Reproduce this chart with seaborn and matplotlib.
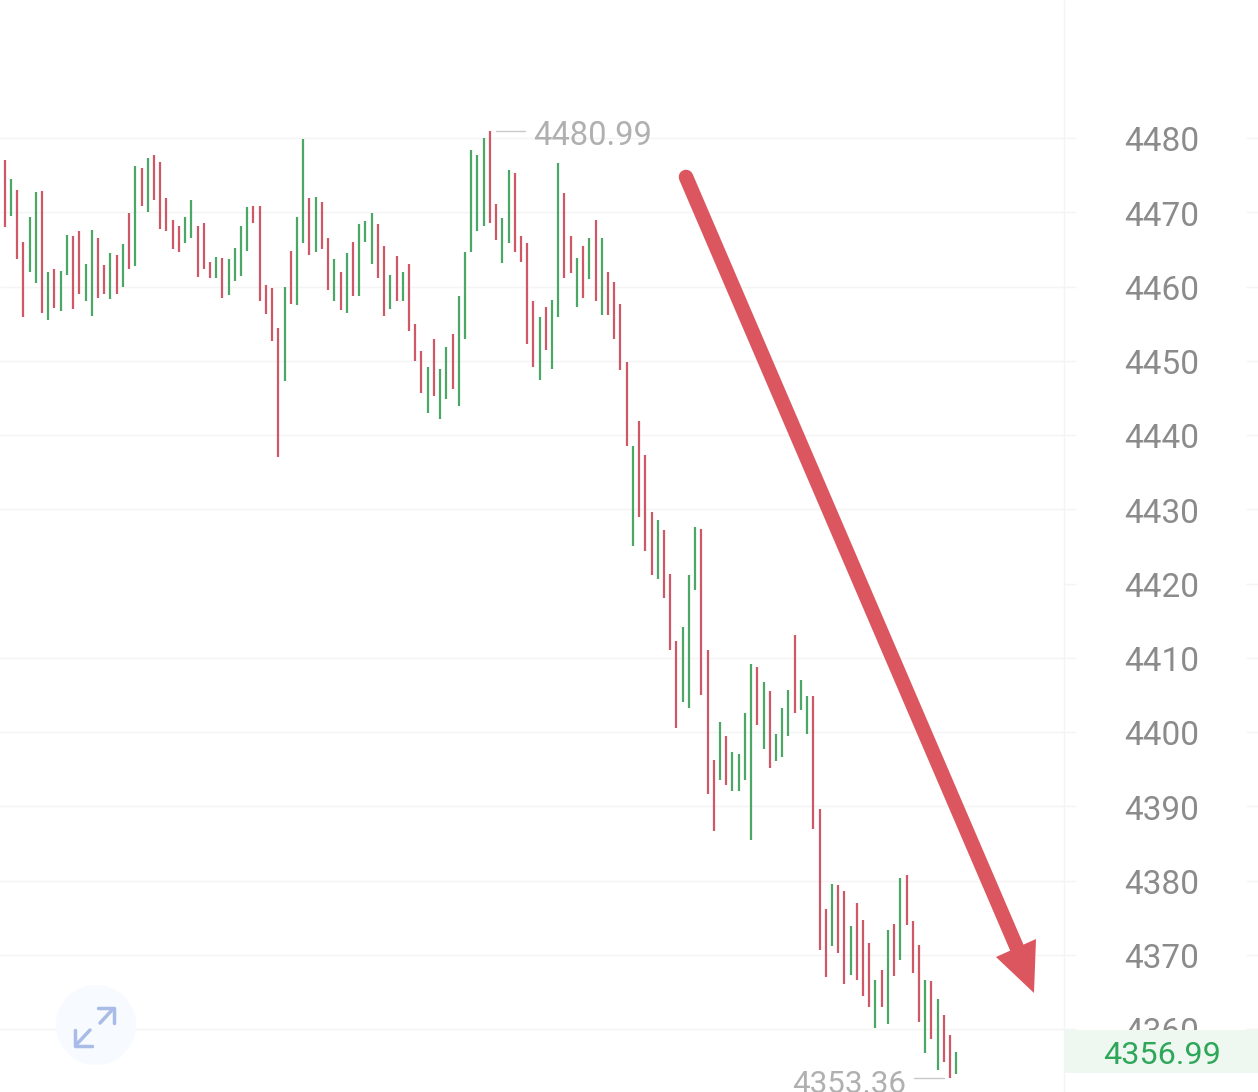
import matplotlib
matplotlib.use("Agg")
import matplotlib.pyplot as plt
from matplotlib.patches import Circle, Polygon, Rectangle
import pandas as pd
import seaborn as sns

sns.set_theme(style="white")
plt.rcParams['font.family'] = ['Roboto', 'DejaVu Sans']

# --- data ---
highs = [
    4477.1, 4474.5, 4473.0, 4466.0, 4469.3, 4472.7, 4472.9, 4461.9, 4462.4, 4462.1,
    4467.0, 4466.8, 4467.5, 4463.1, 4467.6, 4466.5, 4462.9, 4464.5, 4464.3, 4465.7,
    4469.9, 4476.3, 4476.0, 4477.3, 4477.7, 4476.8, 4471.9, 4468.9, 4468.2, 4469.4,
    4471.6, 4468.1, 4468.6, 4463.3, 4464.0, 4463.8, 4463.7, 4465.2, 4468.1, 4470.7,
    4470.9, 4470.9, 4460.2, 4459.8, 4454.4, 4459.9, 4464.8, 4469.4, 4479.9, 4471.9,
    4472.0, 4471.4, 4466.6, 4463.7, 4462.0, 4464.5, 4466.0, 4468.4, 4468.8, 4469.9,
    4468.4, 4465.4, 4461.6, 4464.1, 4462.0, 4463.0, 4454.9, 4451.3, 4449.1, 4453.0,
    4448.9, 4451.9, 4453.6, 4458.7, 4464.6, 4478.4, 4477.7, 4480.0, 4480.99, 4471.1,
    4469.2, 4475.7, 4475.3, 4466.8, 4465.9, 4458.0, 4455.9, 4457.2, 4458.2, 4476.7,
    4472.6, 4466.8, 4463.9, 4465.5, 4466.6, 4468.9, 4466.6, 4462.0, 4460.6, 4457.6,
    4449.8, 4438.5, 4441.9, 4437.3, 4429.6, 4428.5, 4427.2, 4421.3, 4412.3, 4414.2,
    4421.1, 4427.6, 4427.4, 4411.0, 4396.2, 4401.4, 4399.4, 4397.3, 4397.1, 4402.5,
    4409.2, 4408.8, 4406.8, 4405.5, 4399.8, 4403.2, 4405.6, 4413.1, 4407.0, 4404.9,
    4404.9, 4389.7, 4376.1, 4379.5, 4379.4, 4378.6, 4373.9, 4377.0, 4374.7, 4371.6,
    4366.6, 4368.0, 4373.4, 4374.2, 4380.3, 4380.7, 4374.6, 4371.3, 4366.6, 4366.5,
    4364.1, 4361.9, 4359.2, 4356.9,
]
lows = [
    4468.0, 4469.5, 4463.7, 4455.9, 4462.0, 4460.5, 4456.4, 4455.5, 4457.1, 4456.7,
    4461.6, 4457.0, 4459.0, 4458.1, 4456.0, 4458.4, 4459.0, 4458.3, 4459.0, 4460.0,
    4462.3, 4462.8, 4470.8, 4470.0, 4471.7, 4467.7, 4467.5, 4465.0, 4464.7, 4465.9,
    4466.5, 4461.3, 4462.4, 4461.1, 4461.1, 4458.5, 4458.9, 4460.7, 4461.4, 4464.8,
    4468.5, 4458.0, 4456.3, 4452.6, 4437.1, 4447.3, 4457.7, 4457.5, 4465.8, 4464.2,
    4464.6, 4465.0, 4459.6, 4458.0, 4456.9, 4456.4, 4458.7, 4458.7, 4466.0, 4463.1,
    4461.1, 4456.0, 4457.0, 4458.0, 4458.0, 4454.0, 4450.0, 4445.7, 4443.0, 4445.3,
    4442.1, 4444.8, 4446.2, 4443.9, 4453.0, 4464.7, 4467.5, 4468.2, 4468.6, 4466.2,
    4463.2, 4465.8, 4464.7, 4463.3, 4452.2, 4449.2, 4447.4, 4451.5, 4448.9, 4455.9,
    4461.1, 4461.8, 4457.2, 4458.5, 4461.0, 4458.0, 4456.2, 4456.1, 4453.0, 4448.8,
    4438.5, 4425.0, 4429.0, 4424.4, 4421.1, 4420.6, 4418.1, 4411.0, 4400.5, 4404.0,
    4403.3, 4419.1, 4405.0, 4391.6, 4386.7, 4393.6, 4392.8, 4392.0, 4392.1, 4393.6,
    4385.5, 4401.0, 4397.7, 4395.1, 4396.1, 4396.7, 4399.4, 4402.6, 4403.0, 4399.7,
    4387.0, 4370.6, 4367.0, 4371.2, 4370.2, 4366.0, 4367.3, 4366.6, 4364.5, 4363.0,
    4360.2, 4363.0, 4360.7, 4367.2, 4369.3, 4374.0, 4367.5, 4361.0, 4356.8, 4358.6,
    4354.5, 4355.5, 4353.36, 4354.0,
]
# d = falling bar (red), u = rising bar (green), ten bars per row
directions = list(
    "dudduududu"
    "udduuddudu"
    "dududddddu"
    "uddduduuuu"
    "ddddduduud"
    "uddududuuu"
    "ddududddud"
    "uuduuuuudd"
    "uuddddu" "duu"
    "ddudududdd"
    "dudddudddu"
    "uuddduduuu"
    "ududuuuduu"
    "dddudduddd"
    "udududddud"
    "uddu"
)
tick_values = [4480, 4470, 4460, 4450, 4440, 4430, 4420, 4410, 4400, 4390, 4380, 4370, 4360]
grid_values = [4480, 4470, 4460, 4450, 4440, 4430, 4410, 4400, 4390, 4380, 4370, 4360]
max_value = 4480.99
min_value = 4353.36
last_value = 4356.99

RED = "#cf5866"
GREEN = "#4aa765"

bars = pd.DataFrame({"bar": range(len(highs)), "high": highs, "low": lows, "dir": directions})
long_bars = bars.melt(id_vars=["bar", "dir"], value_vars=["high", "low"], value_name="price")

fig = plt.figure(figsize=(12.58, 10.92), dpi=100, facecolor="white")
ax = fig.add_axes([0, 0, 1, 1])
ax.set_xlim(-0.756, 201.5)
ax.set_ylim(4351.52, 4498.59)
ax.axis("off")

# gridlines run under the bars, the right hand stubs sit next to the price scale
trans = ax.get_yaxis_transform()
ax.hlines(grid_values, 0, 1076 / 1258, transform=trans, color="#f3f4f3", lw=1, zorder=1)
ax.hlines(tick_values, 1246 / 1258, 1, transform=trans, color="#f3f4f3", lw=1, zorder=1)
ax.hlines([4420], 1064 / 1258, 1076 / 1258, transform=trans, color="#f3f4f3", lw=1, zorder=1)
ax.vlines([1064 / 1258], 0, 1, transform=ax.transAxes, color="#f3f4f3", lw=1, zorder=1)

sns.lineplot(data=long_bars, x="bar", y="price", hue="dir", units="bar", estimator=None,
             palette={"d": RED, "u": GREEN}, legend=False, linewidth=1.6,
             solid_capstyle="butt", ax=ax, zorder=3)

for v in tick_values:
    ax.text(1199 / 1258, v - 0.6, str(v), transform=trans, ha="right", va="center",
            fontsize=24, color="#8b8b8b", zorder=2)

# current price box covers the 4360 label
ax.add_patch(Rectangle((1064 / 1258, last_value - 2.9), 194 / 1258, 5.8, transform=trans,
                       facecolor="#eef8f1", edgecolor="none", zorder=4))
ax.text(1162 / 1258, last_value - 0.5, f"{last_value:.2f}", transform=trans, ha="center", va="center",
        fontsize=23.3, color="#2fa75a", zorder=5)

# max / min notes
ax.plot([79, 83.7], [max_value, max_value], color="#c8c8c8", lw=1, zorder=3)
ax.text(533 / 1258, max_value - 0.65, f"{max_value:.2f}", transform=trans, ha="left", va="center",
        fontsize=23.6, color="#b0b0b0", zorder=5)
ax.plot([146.2, 151], [min_value, min_value], color="#c8c8c8", lw=1, zorder=3)
ax.text(906 / 1258, min_value - 0.85, f"{min_value:.2f}", transform=trans, ha="right", va="center",
        fontsize=22.6, color="#b0b0b0", zorder=5)

# overlay in pixels for the hand drawn arrow and the expand icon
over = fig.add_axes([0, 0, 1, 1], facecolor="none")
over.set_xlim(0, 1258)
over.set_ylim(1092, 0)
over.axis("off")

over.plot([686, 1020], [177, 955], color="#dc5660", lw=10.5, solid_capstyle="round", zorder=6)
over.add_patch(Polygon([(996, 957), (1036, 939), (1034, 993)], closed=True,
                       facecolor="#dc5660", edgecolor="none", zorder=6))

over.add_patch(Circle((96, 1025), 40, facecolor="#f7fafe", edgecolor="none", zorder=0))
icon = "#a9bce8"
over.plot([100, 113], [1023, 1009], color=icon, lw=2.5, zorder=3)
over.plot([98, 114, 114], [1008, 1008, 1023], color=icon, lw=2.5, zorder=3)
over.plot([90, 76], [1030, 1045], color=icon, lw=2.5, zorder=3)
over.plot([75, 75, 92], [1030, 1046, 1046], color=icon, lw=2.5, zorder=3)

fig.savefig("out.png", dpi=100)
